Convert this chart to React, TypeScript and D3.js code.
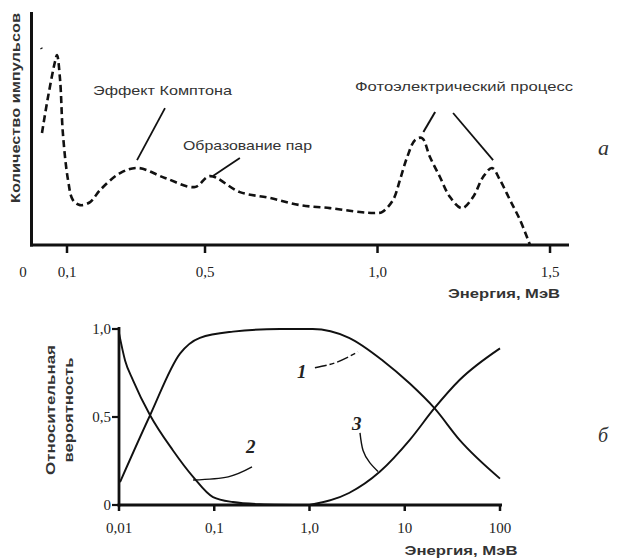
import React from "react";
import * as d3 from "d3";

// ---------- Top chart (a): gamma spectrum ----------
const spectrumEnergy = [0.0275, 0.045, 0.065, 0.071, 0.08, 0.088, 0.103, 0.117, 0.138, 0.167, 0.196, 0.254, 0.306, 0.384, 0.471, 0.514, 0.601, 0.688, 0.775, 0.862, 0.949, 0.993, 1.013, 1.045, 1.065, 1.086, 1.109, 1.129, 1.152, 1.181, 1.21, 1.245, 1.277, 1.306, 1.332, 1.355, 1.384, 1.413, 1.442];
const spectrumCounts = [48.3, 63.8, 78.9, 81.9, 71.1, 48.3, 28, 19.4, 17.2, 18.5, 23.7, 31, 33.2, 28.9, 25, 29.7, 22.8, 20.3, 17.2, 15.9, 14.2, 13.8, 14.2, 19.4, 28, 37.9, 45.3, 46.1, 37.9, 29.3, 20.7, 15.9, 20.7, 29.3, 33.2, 28, 19.4, 10.8, 0];
const topTicks = [0.1, 0.5, 1.0, 1.5];
const topTickLabels = ["0,1", "0,5", "1,0", "1,5"];

// ---------- Bottom chart (б): relative probabilities ----------
const comptonE = [0.01025, 0.0212, 0.0437, 0.0707, 0.157, 0.49, 1.08, 2.6, 5.9, 11.3, 20.5, 37.6, 100];
const comptonP = [0.13, 0.51, 0.86, 0.95, 0.985, 1.0, 1.0, 0.95, 0.82, 0.69, 0.55, 0.37, 0.15];
const photoE = [0.01, 0.0116, 0.014, 0.0212, 0.0369, 0.06, 0.097, 0.157, 0.3, 1.0];
const photoP = [0.977, 0.82, 0.71, 0.51, 0.31, 0.16, 0.045, 0.017, 0.005, 0];
const pairE = [1.0, 2.6, 5.5, 11.3, 20.5, 37.6, 100];
const pairP = [0, 0.068, 0.19, 0.37, 0.55, 0.71, 0.89];
const bottomXTicks = [0.01, 0.1, 1, 10, 100];
const bottomXTickLabels = ["0,01", "0,1", "1,0", "10", "100"];
const bottomYTicks = [0, 0.5, 1.0];
const bottomYTickLabels = ["0", "0,5", "1,0"];

const serif = "'Liberation Serif', 'DejaVu Serif', serif";
const sans = "'Liberation Sans', Arial, sans-serif";
const ink = "#111";

export default function App() {
  // top scales
  const xA = d3.scaleLinear().domain([0, 1.555]).range([32.5, 569]);
  const yA = d3.scaleLinear().domain([0, 100]).range([245, 13]);
  // bottom scales
  const xB = d3.scaleLog().domain([0.01, 100]).range([119, 500]);
  const yB = d3.scaleLinear().domain([0, 1]).range([505, 329]);

  const spectrumLine = d3
    .line<number>()
    .x((_, i) => xA(spectrumEnergy[i]))
    .y((_, i) => yA(spectrumCounts[i]))
    .curve(d3.curveCatmullRom.alpha(0.5));

  const lineB = (E: number[], P: number[]) =>
    d3
      .line<number>()
      .x((_, i) => xB(E[i]))
      .y((_, i) => yB(P[i]))
      .curve(d3.curveMonotoneX)(E) as string;

  const segA = (pts: [number, number][]) =>
    d3
      .line<[number, number]>()
      .x((d) => xA(d[0]))
      .y((d) => yA(d[1]))(pts) as string;

  const curveB = (pts: [number, number][]) =>
    d3
      .line<[number, number]>()
      .x((d) => xB(d[0]))
      .y((d) => yB(d[1]))
      .curve(d3.curveNatural)(pts) as string;

  return (
    <svg width={617} height={560} style={{ display: "block", position: "absolute", left: 0, top: 0, background: "#fff" }}>
      <rect width={617} height={560} fill="#fff" />

      {/* ===== Top chart ===== */}
      <line x1={xA(0) - 1} x2={xA(0) - 1} y1={12} y2={yA(0) + 1.5} stroke={ink} strokeWidth={3} />
      <line x1={xA(0) - 2.5} x2={569} y1={yA(0)} y2={yA(0)} stroke={ink} strokeWidth={3} />
      {topTicks.map((t, i) => (
        <g key={t}>
          <line x1={xA(t)} x2={xA(t)} y1={yA(0)} y2={yA(0) + 8} stroke={ink} strokeWidth={2.5} />
          <text x={xA(t)} y={277} textAnchor="middle" fontFamily={serif} fontSize={15} fill="#222">
            {topTickLabels[i]}
          </text>
        </g>
      ))}
      <text x={23} y={277} textAnchor="middle" fontFamily={serif} fontSize={15} fill="#222">0</text>
      <text x={504} y={298} textAnchor="middle" fontFamily={sans} fontWeight="bold" fontSize={12} fill="#333" textLength={112} lengthAdjust="spacingAndGlyphs">
        Энергия, МэВ
      </text>
      <text transform={`translate(20,108) rotate(-90)`} textAnchor="middle" fontFamily={sans} fontWeight="bold" fontSize={12.5} fill="#333" textLength={190} lengthAdjust="spacingAndGlyphs">
        Количество импульсов
      </text>

      {/* spectrum */}
      <path d={spectrumLine(spectrumEnergy) as string} fill="none" stroke={ink} strokeWidth={2.6} strokeDasharray="7 4" />
      <path d={segA([[0.025, 85], [0.027, 84.5]])} stroke={ink} strokeWidth={2.5} fill="none" />

      {/* annotations */}
      <text x={93} y={95} fontFamily={sans} fontSize={13} fill="#333" textLength={139} lengthAdjust="spacingAndGlyphs">Эффект Комптона</text>
      <path d={segA([[0.384, 59], [0.303, 36.6]])} stroke={ink} strokeWidth={1.8} fill="none" />
      <text x={183} y={150} fontFamily={sans} fontSize={13} fill="#333" textLength={129} lengthAdjust="spacingAndGlyphs">Образование пар</text>
      <path d={segA([[0.601, 37.5], [0.523, 29.7]])} stroke={ink} strokeWidth={1.8} fill="none" />
      <text x={355} y={91} fontFamily={sans} fontSize={12.5} fill="#333" textLength={218} lengthAdjust="spacingAndGlyphs">Фотоэлектрический процесс</text>
      <path d={segA([[1.167, 57.3], [1.133, 48.7]])} stroke={ink} strokeWidth={2} fill="none" />
      <path d={segA([[1.219, 56.9], [1.335, 36.6]])} stroke={ink} strokeWidth={1.8} fill="none" />
      <text x={598} y={155} fontFamily={serif} fontStyle="italic" fontSize={22} fill="#333">a</text>

      {/* ===== Bottom chart ===== */}
      <line x1={xB(0.01)} x2={xB(0.01)} y1={yB(1) - 2} y2={yB(0) + 1.5} stroke={ink} strokeWidth={2.8} />
      <line x1={xB(0.01) - 1.4} x2={xB(100) + 2} y1={yB(0)} y2={yB(0)} stroke={ink} strokeWidth={2.8} />
      {bottomXTicks.map((t, i) => (
        <g key={t}>
          <line x1={xB(t)} x2={xB(t)} y1={yB(0)} y2={yB(0) + 6} stroke={ink} strokeWidth={2.5} />
          <text x={xB(t)} y={533} textAnchor="middle" fontFamily={serif} fontSize={15} fill="#222">
            {bottomXTickLabels[i]}
          </text>
        </g>
      ))}
      {bottomYTicks.map((t, i) => (
        <g key={t}>
          <line x1={xB(0.01) - 7} x2={xB(0.01)} y1={yB(t)} y2={yB(t)} stroke={ink} strokeWidth={2.2} />
          <text x={xB(0.01) - 8} y={yB(t) + 5} textAnchor="end" fontFamily={serif} fontSize={15} fill="#222">
            {bottomYTickLabels[i]}
          </text>
        </g>
      ))}
      <text x={461} y={555} textAnchor="middle" fontFamily={sans} fontWeight="bold" fontSize={12} fill="#333" textLength={113} lengthAdjust="spacingAndGlyphs">
        Энергия, МэВ
      </text>
      <text transform={`translate(55,410) rotate(-90)`} textAnchor="middle" fontFamily={sans} fontWeight="bold" fontSize={12.5} fill="#333" textLength={130} lengthAdjust="spacingAndGlyphs">
        Относительная
      </text>
      <text transform={`translate(73,410) rotate(-90)`} textAnchor="middle" fontFamily={sans} fontWeight="bold" fontSize={12.5} fill="#333" textLength={105} lengthAdjust="spacingAndGlyphs">
        вероятность
      </text>

      <path d={lineB(comptonE, comptonP)} fill="none" stroke={ink} strokeWidth={1.9} />
      <path d={lineB(photoE, photoP)} fill="none" stroke={ink} strokeWidth={1.9} />
      <path d={lineB(pairE, pairP)} fill="none" stroke={ink} strokeWidth={1.9} />

      {/* curve labels */}
      <text x={297} y={378} fontFamily={serif} fontStyle="italic" fontWeight="bold" fontSize={19} fill="#222">1</text>
      <path d={curveB([[1.14, 0.78], [1.9, 0.81], [3.23, 0.87]])} fill="none" stroke={ink} strokeWidth={1.4} strokeDasharray="12 3 5 3" />
      <text x={246} y={453} fontFamily={serif} fontStyle="italic" fontWeight="bold" fontSize={19} fill="#222">2</text>
      <path d={curveB([[0.06, 0.142], [0.14, 0.16], [0.249, 0.216]])} fill="none" stroke={ink} strokeWidth={1.4} />
      <text x={352} y={430} fontFamily={serif} fontStyle="italic" fontWeight="bold" fontSize={19} fill="#222">3</text>
      <path d={curveB([[3.39, 0.41], [3.65, 0.31], [4.31, 0.239], [5.24, 0.19]])} fill="none" stroke={ink} strokeWidth={1.4} />
      <text x={598} y={442} fontFamily={serif} fontStyle="italic" fontSize={20} fill="#333">б</text>
    </svg>
  );
}
